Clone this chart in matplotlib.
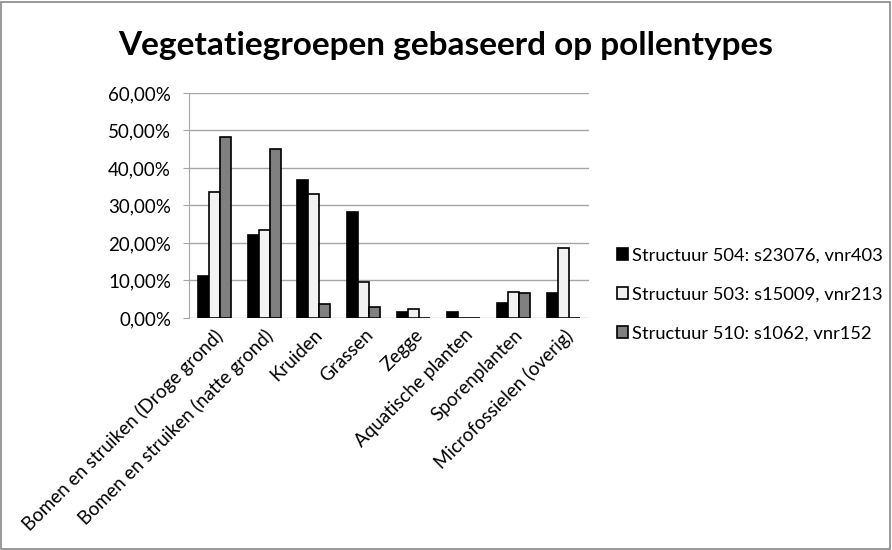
import matplotlib.pyplot as plt
import numpy as np
from matplotlib.patches import Rectangle
from matplotlib.ticker import FuncFormatter

plt.rcParams['font.family'] = ['Lato', 'DejaVu Sans']

categories = ['Bomen en struiken (Droge grond)', 'Bomen en struiken (natte grond)',
              'Kruiden', 'Grassen', 'Zegge', 'Aquatische planten',
              'Sporenplanten', 'Microfossielen (overig)']
series_names = ['Structuur 504: s23076, vnr403',
                'Structuur 503: s15009, vnr213',
                'Structuur 510: s1062, vnr152']
s504 = [11.3, 22.1, 36.8, 28.2, 1.6, 1.5, 4.1, 6.6]
s503 = [33.7, 23.5, 33.0, 9.6, 2.4, 0.0, 6.9, 18.7]
s510 = [48.2, 45.0, 3.8, 2.9, 0.0, 0.1, 6.7, 0.0]
colors = ['#000000', '#f2f2f2', '#808080']

fig = plt.figure(figsize=(8.92, 5.50), dpi=100)
ax = fig.add_axes([0.212, 0.422, 0.448, 0.409])

x = np.arange(len(categories))
w = 0.22
for k, (vals, col, name) in enumerate(zip([s504, s503, s510], colors, series_names)):
    ax.bar(x + (k - 1) * w, vals, w, color=col, edgecolor='black', linewidth=1.2,
           label=name, zorder=3)

ax.set_xlim(-0.5, len(categories) - 0.5)
ax.set_ylim(0, 60)
ax.set_yticks(np.arange(0, 61, 10))
ax.yaxis.set_major_formatter(FuncFormatter(lambda v, p: f'{v:.2f}%'.replace('.', ',')))
ax.grid(axis='y', color='#a6a6a6', linewidth=1, zorder=0)
ax.set_xticks(x)
ax.set_xticklabels(categories, rotation=45, ha='right', rotation_mode='anchor', fontsize=13.5)
ax.tick_params(axis='x', length=0, pad=6)
ax.tick_params(axis='y', length=4, color='#a6a6a6', labelsize=13.5, pad=9)
for s in ['top', 'right', 'bottom']:
    ax.spines[s].set_visible(False)
ax.spines['left'].set_color('#a6a6a6')

fig.text(0.5, 0.918, 'Vegetatiegroepen gebaseerd op pollentypes', ha='center', va='center',
         fontsize=24, fontweight='bold')

fig.legend(loc='center left', bbox_to_anchor=(0.683, 0.465), frameon=False, fontsize=13.2,
           handlelength=0.6, handleheight=0.6, handletextpad=0.25, labelspacing=1.25,
           borderaxespad=0)

fig.patches.append(Rectangle((0.001, 0.002), 0.997, 0.995, transform=fig.transFigure,
                             fill=False, edgecolor='#888888', linewidth=1.2))

fig.savefig('out.png', dpi=100)
